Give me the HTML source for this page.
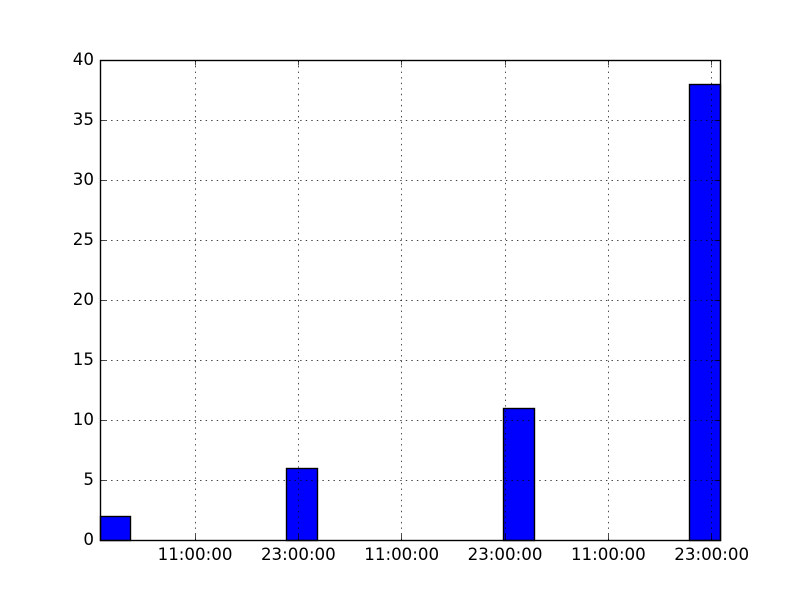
<!DOCTYPE html>
<html>
<head>
<meta charset="utf-8">
<title>Histogram chart</title>
<style>
html,body{margin:0;padding:0;background:#fff;}
svg{display:block;}
text{font-family:"DejaVu Sans","Liberation Sans",sans-serif;font-size:16.67px;fill:#000;}
</style>
</head>
<body>
<svg id="chart" xmlns="http://www.w3.org/2000/svg" width="800" height="600" viewBox="0 0 800 600">
  <rect x="0" y="0" width="800" height="600" fill="#ffffff"/>
  <rect x="100" y="60" width="620" height="480" fill="#ffffff"/>
  <g id="bars"></g>
  <g id="grid"></g>
  <g id="ticks"></g>
  <g id="labels"></g>
  <rect x="100.5" y="60.5" width="620" height="480" fill="none" stroke="#000" stroke-width="1.39"/>
</svg>
<script>
const binCounts = [2,0,0,0,0,0,6,0,0,0,0,0,0,11,0,0,0,0,0,38];
const binEdgeHours = [0,3.53,7.2,10.8,14.4,18,21.6,25.2,28.8,32.4,36,39.6,43.2,46.8,50.4,54,57.6,61.2,64.8,68.4,72];
const xTickHours = [11,23,35,47,59,71];
const xTickLabels = ["11:00:00","23:00:00","11:00:00","23:00:00","11:00:00","23:00:00"];
const yTickValues = [0,5,10,15,20,25,30,35,40];
const yTickLabels = ["0","5","10","15","20","25","30","35","40"];
const xDomain = [0,72];
const yDomain = [0,40];

const NS = "http://www.w3.org/2000/svg";
const plot = {left:100,right:720,top:60,bottom:540};
function xScale(h){return plot.left+(h-xDomain[0])/(xDomain[1]-xDomain[0])*(plot.right-plot.left);}
function yScale(v){return plot.bottom-(v-yDomain[0])/(yDomain[1]-yDomain[0])*(plot.bottom-plot.top);}
function snap(p){return Math.round(p)+0.5;}
function make(tag,attrs,parent){
  const el=document.createElementNS(NS,tag);
  for(const k in attrs){el.setAttribute(k,attrs[k]);}
  parent.appendChild(el);
  return el;
}
const barsG=document.getElementById("bars");
const gridG=document.getElementById("grid");
const ticksG=document.getElementById("ticks");
const labelsG=document.getElementById("labels");

binCounts.forEach(function(count,i){
  if(count<=0){return;}
  const x0=snap(xScale(binEdgeHours[i]));
  const x1=snap(xScale(binEdgeHours[i+1]));
  const y0=snap(yScale(count));
  const y1=snap(yScale(0));
  const bar=make("rect",{x:x0,y:y0,width:x1-x0,height:y1-y0,fill:"#0000ff",stroke:"#000",'stroke-width':1.39},barsG);
  
  
});

xTickHours.forEach(function(h,i){
  const x=snap(xScale(h));
  const g=make("line",{x1:x,x2:x,y1:plot.bottom,y2:plot.top,stroke:"#000",'stroke-width':0.7,'stroke-dasharray':"1.39 4.17"},gridG);
  
  
  const t1=make("line",{x1:x,x2:x,y1:plot.bottom,y2:plot.bottom-5.5,stroke:"#000",'stroke-width':0.7},ticksG);
  
  
  const t2=make("line",{x1:x,x2:x,y1:plot.top,y2:plot.top+5.5,stroke:"#000",'stroke-width':0.7},ticksG);
  
  
  const lab=make("text",{x:xScale(h)+0.3,y:560,'text-anchor':"middle"},labelsG);
  
  
  lab.textContent=xTickLabels[i];
});

yTickValues.forEach(function(v,i){
  const y=snap(yScale(v));
  if(v>yDomain[0]&&v<yDomain[1]){
    const g=make("line",{x1:plot.left,x2:plot.right,y1:y,y2:y,stroke:"#000",'stroke-width':0.7,'stroke-dasharray':"1.39 4.17"},gridG);
    
    
    const t1=make("line",{x1:plot.left,x2:plot.left+5.5,y1:y,y2:y,stroke:"#000",'stroke-width':0.7},ticksG);
    
    
    const t2=make("line",{x1:plot.right,x2:plot.right-5.5,y1:y,y2:y,stroke:"#000",'stroke-width':0.7},ticksG);
    
    
  }
  const lab=make("text",{x:94,y:yScale(v)+5,'text-anchor':"end"},labelsG);
  
  
  lab.textContent=yTickLabels[i];
});
</script>
</body>
</html>
